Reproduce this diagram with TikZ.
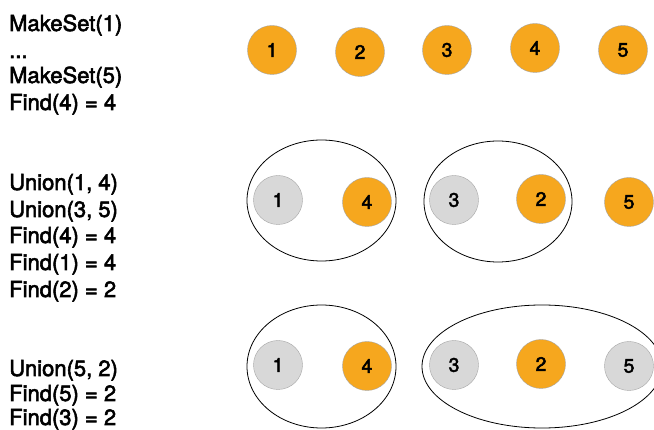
\documentclass[tikz,border=0pt]{standalone}
\usepackage{fontspec}
\setmainfont{TeX Gyre Heros}
\newfontfamily\heavyfont[FakeBold=2.5]{TeX Gyre Heros}
\begin{document}
\begin{tikzpicture}[x=1pt,y=-1pt,
  rootset/.style={circle, draw=gray!70, fill={rgb,255:red,246;green,167;blue,30}, minimum size=49pt, inner sep=0pt, font=\heavyfont\fontsize{19.5}{19.5}\selectfont},
  childset/.style={circle, draw=gray!70, fill={rgb,255:red,216;green,216;blue,216}, minimum size=49pt, inner sep=0pt, font=\heavyfont\fontsize{19.5}{19.5}\selectfont},
  opline/.style={anchor=base west, inner sep=0pt, font=\heavyfont\fontsize{22}{22}\selectfont},
  group/.style={line width=0.8pt, black}]

% Fix the page size
\useasboundingbox (0,0) rectangle (654,430);

% Operations on the left
\node[opline] (m1) at (9,31) {MakeSet(1)};
\node[opline] (dots) at (9,58) {...};
\node[opline] (m5) at (9,83) {MakeSet(5)};
\node[opline] (f4a) at (9,110) {Find(4) = 4};

\node[opline] (u14) at (9,190) {Union(1, 4)};
\node[opline] (u35) at (9,217) {Union(3, 5)};
\node[opline] (f4b) at (9,243) {Find(4) = 4};
\node[opline] (f1) at (9,270) {Find(1) = 4};
\node[opline] (f2) at (9,297) {Find(2) = 2};

\node[opline] (u52) at (9,376) {Union(5, 2)};
\node[opline] (f5) at (9,401) {Find(5) = 2};
\node[opline] (f3) at (9,425) {Find(3) = 2};

% First row: five singleton sets
\node[rootset] (a1) at (272,50) {1};
\node[rootset] (a2) at (360,52) {2};
\node[rootset] (a3) at (447,50) {3};
\node[rootset] (a4) at (535,48) {4};
\node[rootset] (a5) at (623,50) {5};

% Second row
\draw[group] (321.5,200.5) ellipse (74.5 and 60.5);
\draw[group] (498,201.5) ellipse (74 and 60.5);
\node[childset] (b1) at (278,200) {1};
\node[rootset] (b4) at (367,202) {4};
\node[childset] (b3) at (454,200) {3};
\node[rootset] (b2) at (541,199) {2};
\node[rootset] (b5) at (629,202) {5};

% Third row
\draw[group] (321.5,366.5) ellipse (74.5 and 61.5);
\draw[group] (542,366.5) ellipse (120 and 61.5);
\node[childset] (c1) at (278,365) {1};
\node[rootset] (c4) at (367,366) {4};
\node[childset] (c3) at (454,365) {3};
\node[rootset] (c2) at (541,364) {2};
\node[childset] (c5) at (629,366) {5};

\end{tikzpicture}
\end{document}
